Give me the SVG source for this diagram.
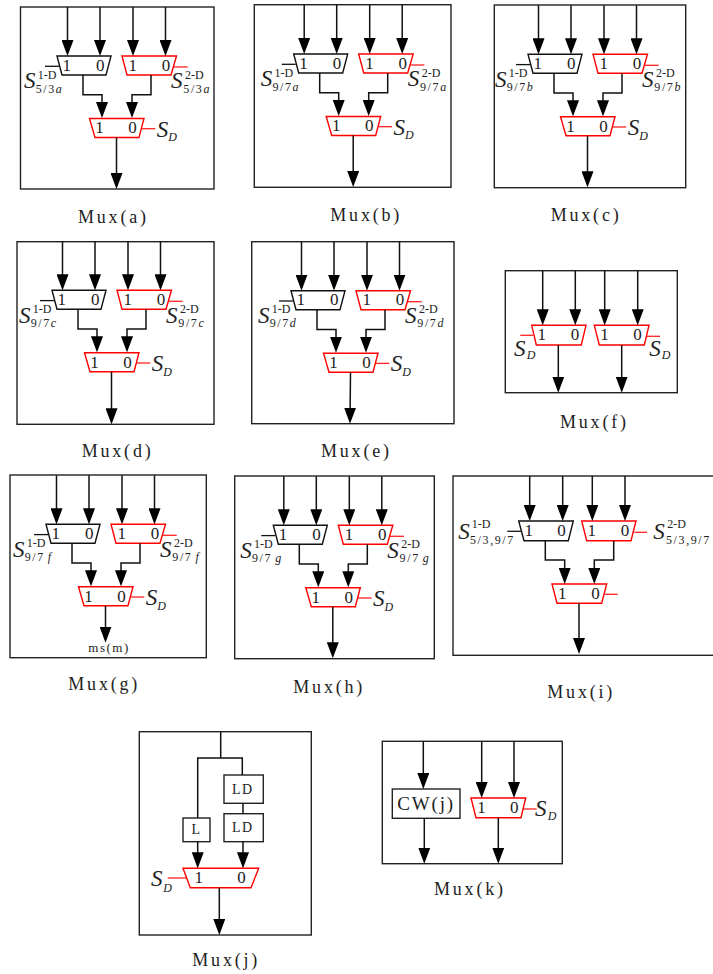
<svg xmlns="http://www.w3.org/2000/svg" width="713" height="974" viewBox="0 0 713 974">
<style>
text{font-family:"Liberation Serif","Times New Roman",serif;fill:#222}
.f{fill:none;stroke:#222;stroke-width:1.4}
.k{fill:#fff;stroke:#111;stroke-width:1.4}
.r{fill:#fff;stroke:#f00;stroke-width:1.4}
.ks{stroke:#111;stroke-width:1.3;fill:none}
.rs{stroke:#f22;stroke-width:1.3;fill:none}
.n{font-size:17px}
.s{font-size:23px;font-style:italic}
.u{font-size:12px}
.b{font-size:12px;letter-spacing:1.6px}
.i{font-style:italic}
.d{font-size:12px;font-style:italic}
.c{font-size:18px;letter-spacing:2.8px}
.w{stroke:#111;stroke-width:1.5;fill:none}
.a{marker-end:url(#h)}
</style>
<defs>
<marker id="h" markerUnits="userSpaceOnUse" markerWidth="16" markerHeight="12" viewBox="0 0 16 12" refX="13" refY="6" orient="auto"><path d="M0 0L16 6L0 12Z" fill="#000"/></marker>
</defs>

<g id="mux-a">
<rect class="f" x="20.5" y="7" width="193.5" height="182"/>
<g id="a-m1"><path class="ks" d="M45 66.3H59"/><path class="k" d="M57 56H111L106 75H62Z"/><text class="n" x="62.5" y="70.7">1</text><text class="n" x="96" y="70.7">0</text><text class="s" x="24" y="88.3">S</text><text class="u" x="37.7" y="78.7">1-D</text><text class="b" x="35.7" y="92.7">5/3<tspan class="i">a</tspan></text></g>
<g id="a-m2"><path class="rs" d="M173 67H187.7"/><path class="r" d="M122 56H176.5L171 75H127Z"/><text class="n" x="128.5" y="70.7">1</text><text class="n" x="161.7" y="70.7">0</text><text class="s" x="171" y="88.3">S</text><text class="u" x="185" y="78.7">2-D</text><text class="b" x="183.3" y="92.7">5/3<tspan class="i">a</tspan></text></g>
<g id="a-m3"><path class="rs" d="M141.7 128.7H155.3"/><path class="r" d="M89.5 118.5H144L139 137.5H95Z"/><text class="n" x="95.2" y="133.3">1</text><text class="n" x="128.3" y="133.3">0</text><text class="s" x="156.7" y="136.7">S</text><text class="d" x="168.3" y="141.3">D</text></g>
<text class="c" x="78" y="222.7">Mux(a)</text>
</g>

<g id="mux-b">
<rect class="f" x="254.3" y="4.7" width="196.7" height="182.6"/>
<g transform="translate(236.7,-2)">
<g id="b-m1"><path class="ks" d="M45 66.3H59"/><path class="k" d="M57 56H111L106 75H62Z"/><text class="n" x="62.5" y="70.7">1</text><text class="n" x="96" y="70.7">0</text><text class="s" x="24" y="88.3">S</text><text class="u" x="37.7" y="78.7">1-D</text><text class="b" x="35.7" y="92.7">9/7<tspan class="i">a</tspan></text></g>
<g id="b-m2"><path class="rs" d="M173 67H187.7"/><path class="r" d="M122 56H176.5L171 75H127Z"/><text class="n" x="128.5" y="70.7">1</text><text class="n" x="161.7" y="70.7">0</text><text class="s" x="171" y="88.3">S</text><text class="u" x="185" y="78.7">2-D</text><text class="b" x="183.3" y="92.7">9/7<tspan class="i">a</tspan></text></g>
<g id="b-m3"><path class="rs" d="M141.7 128.7H155.3"/><path class="r" d="M89.5 118.5H144L139 137.5H95Z"/><text class="n" x="95.2" y="133.3">1</text><text class="n" x="128.3" y="133.3">0</text><text class="s" x="156.7" y="136.7">S</text><text class="d" x="168.3" y="141.3">D</text></g>
</g>
<text class="c" x="330.3" y="221">Mux(b)</text>
</g>

<g id="mux-c">
<rect class="f" x="494.3" y="5" width="191.4" height="182.7"/>
<g transform="translate(471,-1.7)">
<g id="c-m1"><path class="ks" d="M45 66.3H59"/><path class="k" d="M57 56H111L106 75H62Z"/><text class="n" x="62.5" y="70.7">1</text><text class="n" x="96" y="70.7">0</text><text class="s" x="24" y="88.3">S</text><text class="u" x="37.7" y="78.7">1-D</text><text class="b" x="35.7" y="92.7">9/7<tspan class="i">b</tspan></text></g>
<g id="c-m2"><path class="rs" d="M173 67H187.7"/><path class="r" d="M122 56H176.5L171 75H127Z"/><text class="n" x="128.5" y="70.7">1</text><text class="n" x="161.7" y="70.7">0</text><text class="s" x="171" y="88.3">S</text><text class="u" x="185" y="78.7">2-D</text><text class="b" x="183.3" y="92.7">9/7<tspan class="i">b</tspan></text></g>
<g id="c-m3"><path class="rs" d="M141.7 128.7H155.3"/><path class="r" d="M89.5 118.5H144L139 137.5H95Z"/><text class="n" x="95.2" y="133.3">1</text><text class="n" x="128.3" y="133.3">0</text><text class="s" x="156.7" y="136.7">S</text><text class="d" x="168.3" y="141.3">D</text></g>
</g>
<text class="c" x="550.7" y="221">Mux(c)</text>
</g>

<g id="mux-d">
<rect class="f" x="17" y="241.7" width="197" height="182.6"/>
<g transform="translate(-5,234.3)">
<g id="d-m1"><path class="ks" d="M45 66.3H59"/><path class="k" d="M57 56H111L106 75H62Z"/><text class="n" x="62.5" y="70.7">1</text><text class="n" x="96" y="70.7">0</text><text class="s" x="24" y="88.3">S</text><text class="u" x="37.7" y="78.7">1-D</text><text class="b" x="35.7" y="92.7">9/7<tspan class="i">c</tspan></text></g>
<g id="d-m2"><path class="rs" d="M173 67H187.7"/><path class="r" d="M122 56H176.5L171 75H127Z"/><text class="n" x="128.5" y="70.7">1</text><text class="n" x="161.7" y="70.7">0</text><text class="s" x="171" y="88.3">S</text><text class="u" x="185" y="78.7">2-D</text><text class="b" x="183.3" y="92.7">9/7<tspan class="i">c</tspan></text></g>
<g id="d-m3"><path class="rs" d="M141.7 128.7H155.3"/><path class="r" d="M89.5 118.5H144L139 137.5H95Z"/><text class="n" x="95.2" y="133.3">1</text><text class="n" x="128.3" y="133.3">0</text><text class="s" x="156.7" y="136.7">S</text><text class="d" x="168.3" y="141.3">D</text></g>
</g>
<text class="c" x="81.7" y="457.3">Mux(d)</text>
</g>

<g id="mux-e">
<rect class="f" x="251.7" y="241.7" width="202.3" height="182"/>
<g transform="translate(234,234.7)">
<g id="e-m1"><path class="ks" d="M45 66.3H59"/><path class="k" d="M57 56H111L106 75H62Z"/><text class="n" x="62.5" y="70.7">1</text><text class="n" x="96" y="70.7">0</text><text class="s" x="24" y="88.3">S</text><text class="u" x="37.7" y="78.7">1-D</text><text class="b" x="35.7" y="92.7">9/7<tspan class="i">d</tspan></text></g>
<g id="e-m2"><path class="rs" d="M173 67H187.7"/><path class="r" d="M122 56H176.5L171 75H127Z"/><text class="n" x="128.5" y="70.7">1</text><text class="n" x="161.7" y="70.7">0</text><text class="s" x="171" y="88.3">S</text><text class="u" x="185" y="78.7">2-D</text><text class="b" x="183.3" y="92.7">9/7<tspan class="i">d</tspan></text></g>
<g id="e-m3"><path class="rs" d="M141.7 128.7H155.3"/><path class="r" d="M89.5 118.5H144L139 137.5H95Z"/><text class="n" x="95.2" y="133.3">1</text><text class="n" x="128.3" y="133.3">0</text><text class="s" x="156.7" y="136.7">S</text><text class="d" x="168.3" y="141.3">D</text></g>
</g>
<text class="c" x="321" y="457.3">Mux(e)</text>
</g>

<g id="mux-f">
<rect class="f" x="505.3" y="270.7" width="172" height="122"/>
<g id="f-m1"><path class="rs" d="M520.3 335.3H533"/><path class="r" d="M531.7 325.3H586L581.3 345H536.3Z"/><text class="n" x="537.5" y="340">1</text><text class="n" x="570.7" y="340">0</text><text class="s" x="514" y="355.7">S</text><text class="d" x="526.7" y="359.3">D</text></g>
<g id="f-m2"><path class="rs" d="M646.7 336.3H660"/><path class="r" d="M594.3 325.3H649L644.3 345H599.3Z"/><text class="n" x="600.2" y="340">1</text><text class="n" x="633.3" y="340">0</text><text class="s" x="649.3" y="355.7">S</text><text class="d" x="661.7" y="359.3">D</text></g>
<text class="c" x="560" y="428.3">Mux(f)</text>
</g>

<g id="mux-g">
<rect class="f" x="10" y="475" width="196.3" height="182.7"/>
<g transform="translate(-11,468.3)">
<g id="g-m1"><path class="ks" d="M45 66.3H59"/><path class="k" d="M57 56H111L106 75H62Z"/><text class="n" x="62.5" y="70.7">1</text><text class="n" x="96" y="70.7">0</text><text class="s" x="24" y="88.3">S</text><text class="u" x="37.7" y="78.7">1-D</text><text class="b" x="35.7" y="92.7">9/7<tspan class="i" dx="3">f</tspan></text></g>
<g id="g-m2"><path class="rs" d="M173 67H187.7"/><path class="r" d="M122 56H176.5L171 75H127Z"/><text class="n" x="128.5" y="70.7">1</text><text class="n" x="161.7" y="70.7">0</text><text class="s" x="171" y="88.3">S</text><text class="u" x="185" y="78.7">2-D</text><text class="b" x="183.3" y="92.7">9/7<tspan class="i" dx="3">f</tspan></text></g>
<g id="g-m3"><path class="rs" d="M141.7 128.7H155.3"/><path class="r" d="M89.5 118.5H144L139 137.5H95Z"/><text class="n" x="95.2" y="133.3">1</text><text class="n" x="128.3" y="133.3">0</text><text class="s" x="156.7" y="136.7">S</text><text class="d" x="168.3" y="141.3">D</text></g>
</g>
<text x="88.3" y="652.3" font-size="13" letter-spacing="1.5">ms(m)</text>
<text class="c" x="68.3" y="690">Mux(g)</text>
</g>

<g id="mux-h">
<rect class="f" x="234.7" y="476" width="199.6" height="182.7"/>
<g transform="translate(216.3,469.3)">
<g id="h-m1"><path class="ks" d="M45 66.3H59"/><path class="k" d="M57 56H111L106 75H62Z"/><text class="n" x="62.5" y="70.7">1</text><text class="n" x="96" y="70.7">0</text><text class="s" x="24" y="88.3">S</text><text class="u" x="37.7" y="78.7">1-D</text><text class="b" x="35.7" y="92.7">9/7<tspan class="i" dx="3">g</tspan></text></g>
<g id="h-m2"><path class="rs" d="M173 67H187.7"/><path class="r" d="M122 56H176.5L171 75H127Z"/><text class="n" x="128.5" y="70.7">1</text><text class="n" x="161.7" y="70.7">0</text><text class="s" x="171" y="88.3">S</text><text class="u" x="185" y="78.7">2-D</text><text class="b" x="183.3" y="92.7">9/7<tspan class="i" dx="3">g</tspan></text></g>
<g id="h-m3"><path class="rs" d="M141.7 128.7H155.3"/><path class="r" d="M89.5 118.5H144L139 137.5H95Z"/><text class="n" x="95.2" y="133.3">1</text><text class="n" x="128.3" y="133.3">0</text><text class="s" x="156.7" y="136.7">S</text><text class="d" x="168.3" y="141.3">D</text></g>
</g>
<text class="c" x="293.3" y="692.7">Mux(h)</text>
</g>

<g id="mux-i">
<rect class="f" x="453" y="476" width="264" height="179.3"/>
<g id="i-m1"><path class="ks" d="M507.3 531.3H522"/><path class="k" d="M518.7 521H573.3L568.3 540.7H524Z"/><text class="n" x="524.5" y="536">1</text><text class="n" x="557.3" y="536">0</text><text class="s" x="458.3" y="539">S</text><text class="u" x="471.7" y="528.3">1-D</text><text class="b" x="470" y="544">5/3,9/7</text></g>
<g id="i-m2"><path class="rs" d="M634.3 532.3H647"/><path class="r" d="M581.7 521H636L631 540.7H586.7Z"/><text class="n" x="587.5" y="536">1</text><text class="n" x="620.7" y="536">0</text><text class="s" x="653.3" y="539">S</text><text class="u" x="667.3" y="528.3">2-D</text><text class="b" x="666" y="544">5/3,9/7</text></g>
<g id="i-m3"><path class="rs" d="M605 594.3H617.7"/><path class="r" d="M552 584H606.7L601.7 603.3H557Z"/><text class="n" x="558" y="599">1</text><text class="n" x="591.3" y="599">0</text></g>
<text class="c" x="547.3" y="698.3">Mux(i)</text>
</g>

<g id="mux-j">
<rect class="f" x="139.3" y="731.7" width="172" height="203.3"/>
<g id="j-l"><rect class="f" x="183" y="818" width="27" height="23.7"/><text x="191.5" y="834.3" font-size="14">L</text></g>
<g id="j-ld1"><rect class="f" x="224" y="775" width="39.3" height="28.3"/><text x="232" y="794.3" font-size="14" letter-spacing="1.5">LD</text></g>
<g id="j-ld2"><rect class="f" x="224" y="813.7" width="39.3" height="28"/><text x="232" y="832.3" font-size="14" letter-spacing="1.5">LD</text></g>
<g id="j-m"><path class="rs" d="M167.7 878H186"/><path class="r" d="M183 868.3H258.7L251 887.7H190.3Z"/><text class="n" x="194.5" y="883">1</text><text class="n" x="237.3" y="883">0</text><text class="s" x="151" y="886.3">S</text><text class="d" x="163.3" y="891.7">D</text></g>
<text class="c" x="192.3" y="965.7">Mux(j)</text>
</g>

<g id="mux-k">
<rect class="f" x="382.3" y="741.3" width="180" height="122.4"/>
<g id="k-cw"><rect class="f" x="392.3" y="789" width="67.7" height="29.3"/><text x="397.3" y="810" font-size="19" letter-spacing="1.8">CW(j)</text></g>
<g id="k-m"><path class="rs" d="M522.7 809H536.7"/><path class="r" d="M471 798H525.7L521 817.7H476Z"/><text class="n" x="477.2" y="813">1</text><text class="n" x="510" y="813">0</text><text class="s" x="535" y="816">S</text><text class="d" x="547.7" y="820">D</text></g>
<text class="c" x="434" y="895">Mux(k)</text>
</g>

<g id="connectors">
<g transform="translate(0,0)"><path class="w a" d="M67.5 7V53"/><path class="w a" d="M100 7V53"/><path class="w a" d="M133 7V53"/><path class="w a" d="M165.5 7V53"/><path class="w a" d="M83 75V94.7H102V115"/><path class="w a" d="M151 75V94.7H132V115"/><path class="w a" d="M116.5 137.5V186"/></g>
<g transform="translate(236.7,-2)"><path class="w a" d="M67.5 7V53"/><path class="w a" d="M100 7V53"/><path class="w a" d="M133 7V53"/><path class="w a" d="M165.5 7V53"/><path class="w a" d="M83 75V94.7H102V115"/><path class="w a" d="M151 75V94.7H132V115"/><path class="w a" d="M116.5 137.5V186"/></g>
<g transform="translate(471,-1.7)"><path class="w a" d="M67.5 7V53"/><path class="w a" d="M100 7V53"/><path class="w a" d="M133 7V53"/><path class="w a" d="M165.5 7V53"/><path class="w a" d="M83 75V94.7H102V115"/><path class="w a" d="M151 75V94.7H132V115"/><path class="w a" d="M116.5 137.5V186"/></g>
<g transform="translate(-5,234.3)"><path class="w a" d="M67.5 7V53"/><path class="w a" d="M100 7V53"/><path class="w a" d="M133 7V53"/><path class="w a" d="M165.5 7V53"/><path class="w a" d="M83 75V94.7H102V115"/><path class="w a" d="M151 75V94.7H132V115"/><path class="w a" d="M116.5 137.5V187"/></g>
<g transform="translate(234,234.7)"><path class="w a" d="M67.5 7V53"/><path class="w a" d="M100 7V53"/><path class="w a" d="M133 7V53"/><path class="w a" d="M165.5 7V53"/><path class="w a" d="M83 75V94.7H102V115"/><path class="w a" d="M151 75V94.7H132V115"/><path class="w a" d="M116.5 137.5L116 186"/></g>
<g transform="translate(-11,468.3)"><path class="w a" d="M67.5 7V53"/><path class="w a" d="M100 7V53"/><path class="w a" d="M133 7V53"/><path class="w a" d="M165.5 7V53"/><path class="w a" d="M83 75V94.7H102V115"/><path class="w a" d="M151 75V94.7H132V115"/><path class="w a" d="M116.5 137.5V171.4"/></g>
<g transform="translate(216.3,469.3)"><path class="w a" d="M67.5 7V53"/><path class="w a" d="M100 7V53"/><path class="w a" d="M133 7V53"/><path class="w a" d="M165.5 7V53"/><path class="w a" d="M83 75V94.7H102V115"/><path class="w a" d="M151 75V94.7H132V115"/><path class="w a" d="M116.5 137.5V186"/></g>
<path class="w a" d="M542.7 270.7V322.3"/><path class="w a" d="M575.3 270.7V322.3"/><path class="w a" d="M604.7 270.7V322.3"/><path class="w a" d="M637.7 270.7V322.3"/><path class="w a" d="M558.3 345V389.7"/><path class="w a" d="M621.7 345V389.7"/>
<path class="w a" d="M529.7 476V518"/><path class="w a" d="M562.7 476V518"/><path class="w a" d="M592.3 476V518"/><path class="w a" d="M625 476V518"/><path class="w a" d="M545.3 540.7V560H564.7V581"/><path class="w a" d="M613.7 540.7V560H594.3V581"/><path class="w a" d="M579 603.3V651"/>
<path class="w" d="M220.7 731.7V758M197.7 818V758H242.3V775M243 803.3V813.7"/>
<path class="w a" d="M197.7 841.7V865.3"/><path class="w a" d="M243 841.7V865.3"/><path class="w a" d="M219.3 887.7V932"/>
<path class="w a" d="M423.3 741.3V786"/><path class="w a" d="M424.3 818.3V860.7"/><path class="w a" d="M481.7 741.3V795"/><path class="w a" d="M514 741.3V795"/><path class="w a" d="M498.3 817.7V860.7"/>
</g>
</svg>
